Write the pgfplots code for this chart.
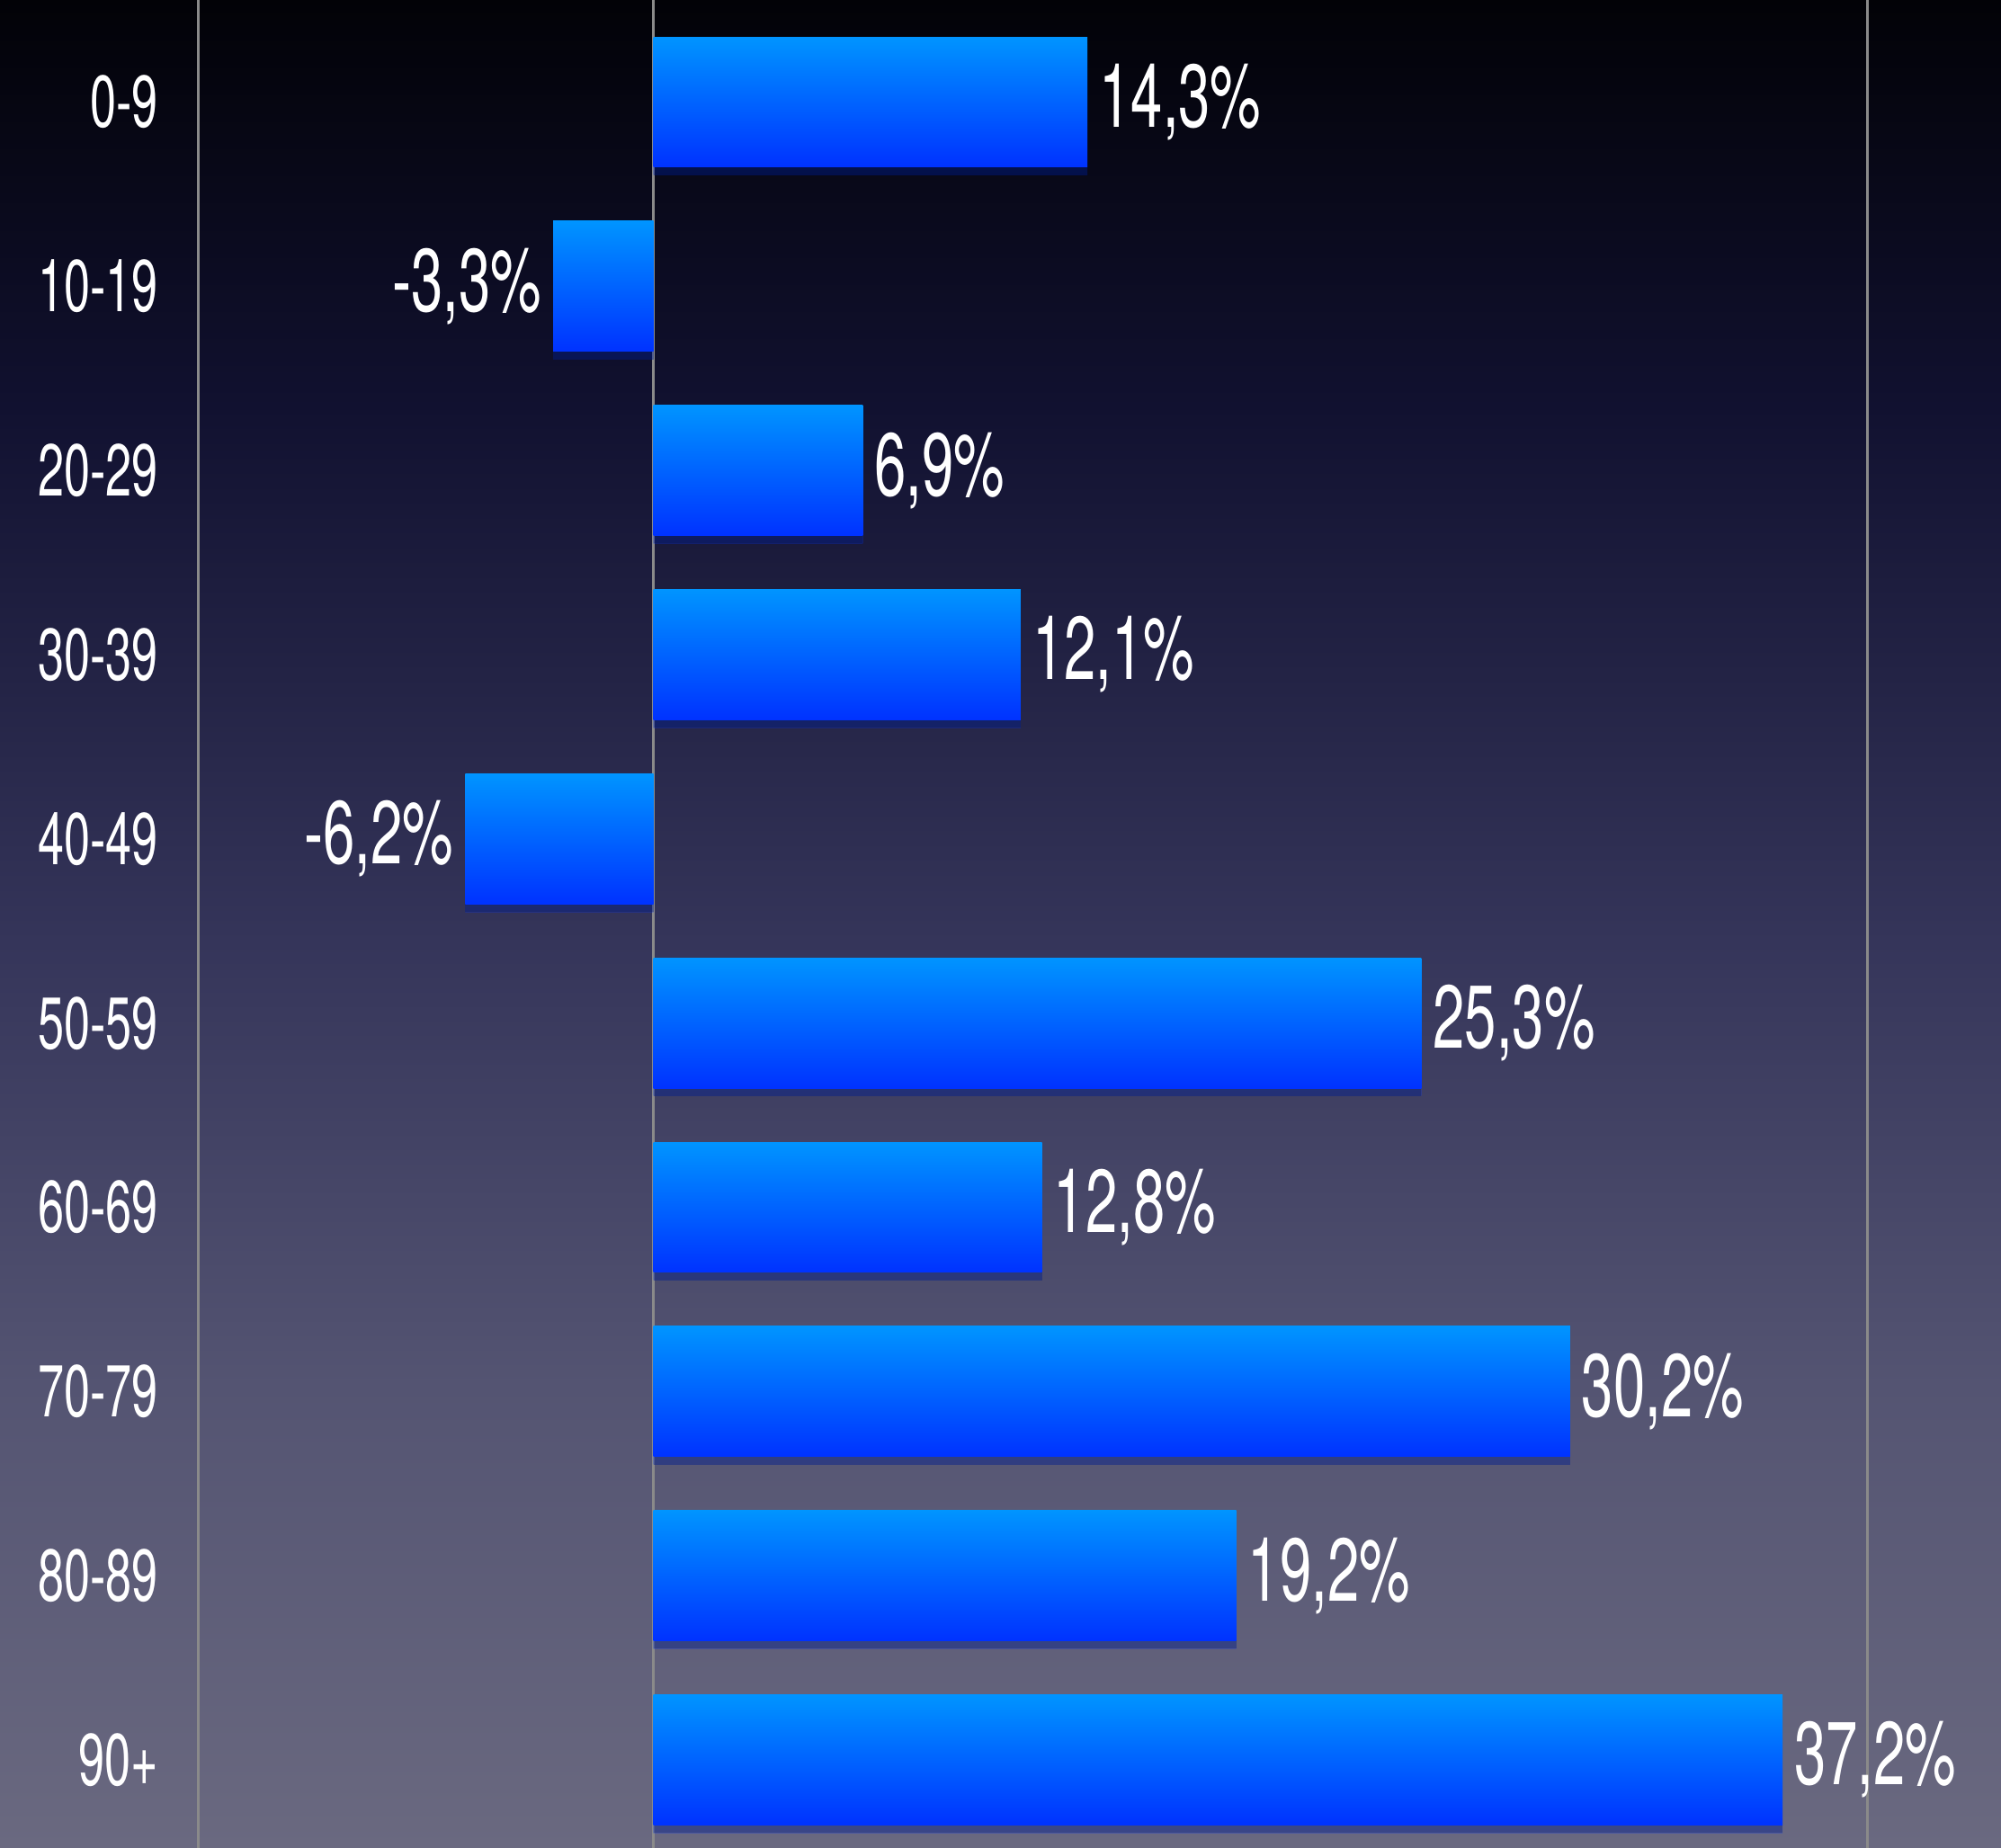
\documentclass[border=0pt]{standalone}
\usepackage{pgfplots}
\pgfplotsset{compat=1.18}
\usepackage{fontspec}
\setmainfont{TeX Gyre Heros}
\newfontfamily\lbl{TeX Gyre Heros}[FakeStretch=0.64]
\usetikzlibrary{shadows}
\definecolor{bgtop}{HTML}{020207}
\definecolor{bgA}{HTML}{111130}
\definecolor{bgB}{HTML}{35355A}
\definecolor{bgC}{HTML}{545472}
\definecolor{bgbot}{HTML}{6A6980}
\definecolor{bartop}{HTML}{0094FF}
\definecolor{barbot}{HTML}{0032FF}
\definecolor{gridc}{HTML}{8A8A8A}
\pgfdeclareverticalshading{bgshade}{100bp}{color(0bp)=(bgbot); color(25bp)=(bgbot);
  color(37.5bp)=(bgC); color(49.5bp)=(bgB); color(64bp)=(bgA); color(75bp)=(bgtop); color(100bp)=(bgtop)}
\pgfplotsset{onebar/.style={draw=none, top color=bartop, bottom color=barbot, bar shift=0pt,
  drop shadow={shadow xshift=0pt, shadow yshift=-1.8pt, opacity=0.25, fill=black}}}
\begin{document}
\begin{tikzpicture}
\begin{axis}[
  scale only axis,
  width=16cm, height=14.777cm,
  xmin=-21.53, xmax=44.40,
  ymin=-0.554, ymax=9.478,
  y dir=reverse,
  clip=false,
  axis line style={draw=none},
  axis background/.style={shading=bgshade},
  xtick={-15,0,40},
  xticklabels={},
  xticklabel style={inner sep=0pt, outer sep=0pt},
  xmajorgrids=true,
  major grid style={draw=gridc, line width=0.6pt},
  major tick length=0pt,
  ytick={0,...,9},
  yticklabels={0-9,10-19,20-29,30-39,40-49,50-59,60-69,70-79,80-89,90+},
  yticklabel style={anchor=east, inner sep=0pt, xshift=36.2pt, text=white,
     font=\lbl\fontsize{16.7}{20}\selectfont},
  xbar,
  bar width=0.707,
  /pgf/number format/assume math mode=true,
  nodes near coords={\pgfmathprintnumber[use comma,fixed,fixed zerofill,precision=1]{\pgfplotspointmeta}\%},
  nodes near coords align=horizontal,
  every node near coord/.append style={text=white, inner sep=2.5pt,
     font=\lbl\fontsize{20.3}{24}\selectfont},
]
\addplot[onebar] coordinates {(14.3,0)};
\addplot[onebar] coordinates {(-3.3,1)};
\addplot[onebar] coordinates {(6.9,2)};
\addplot[onebar] coordinates {(12.1,3)};
\addplot[onebar] coordinates {(-6.2,4)};
\addplot[onebar] coordinates {(25.3,5)};
\addplot[onebar] coordinates {(12.8,6)};
\addplot[onebar] coordinates {(30.2,7)};
\addplot[onebar] coordinates {(19.2,8)};
\addplot[onebar] coordinates {(37.2,9)};
\end{axis}
\pgfresetboundingbox
\path[use as bounding box] (current axis.south west) rectangle (current axis.north east);
\end{tikzpicture}
\end{document}
